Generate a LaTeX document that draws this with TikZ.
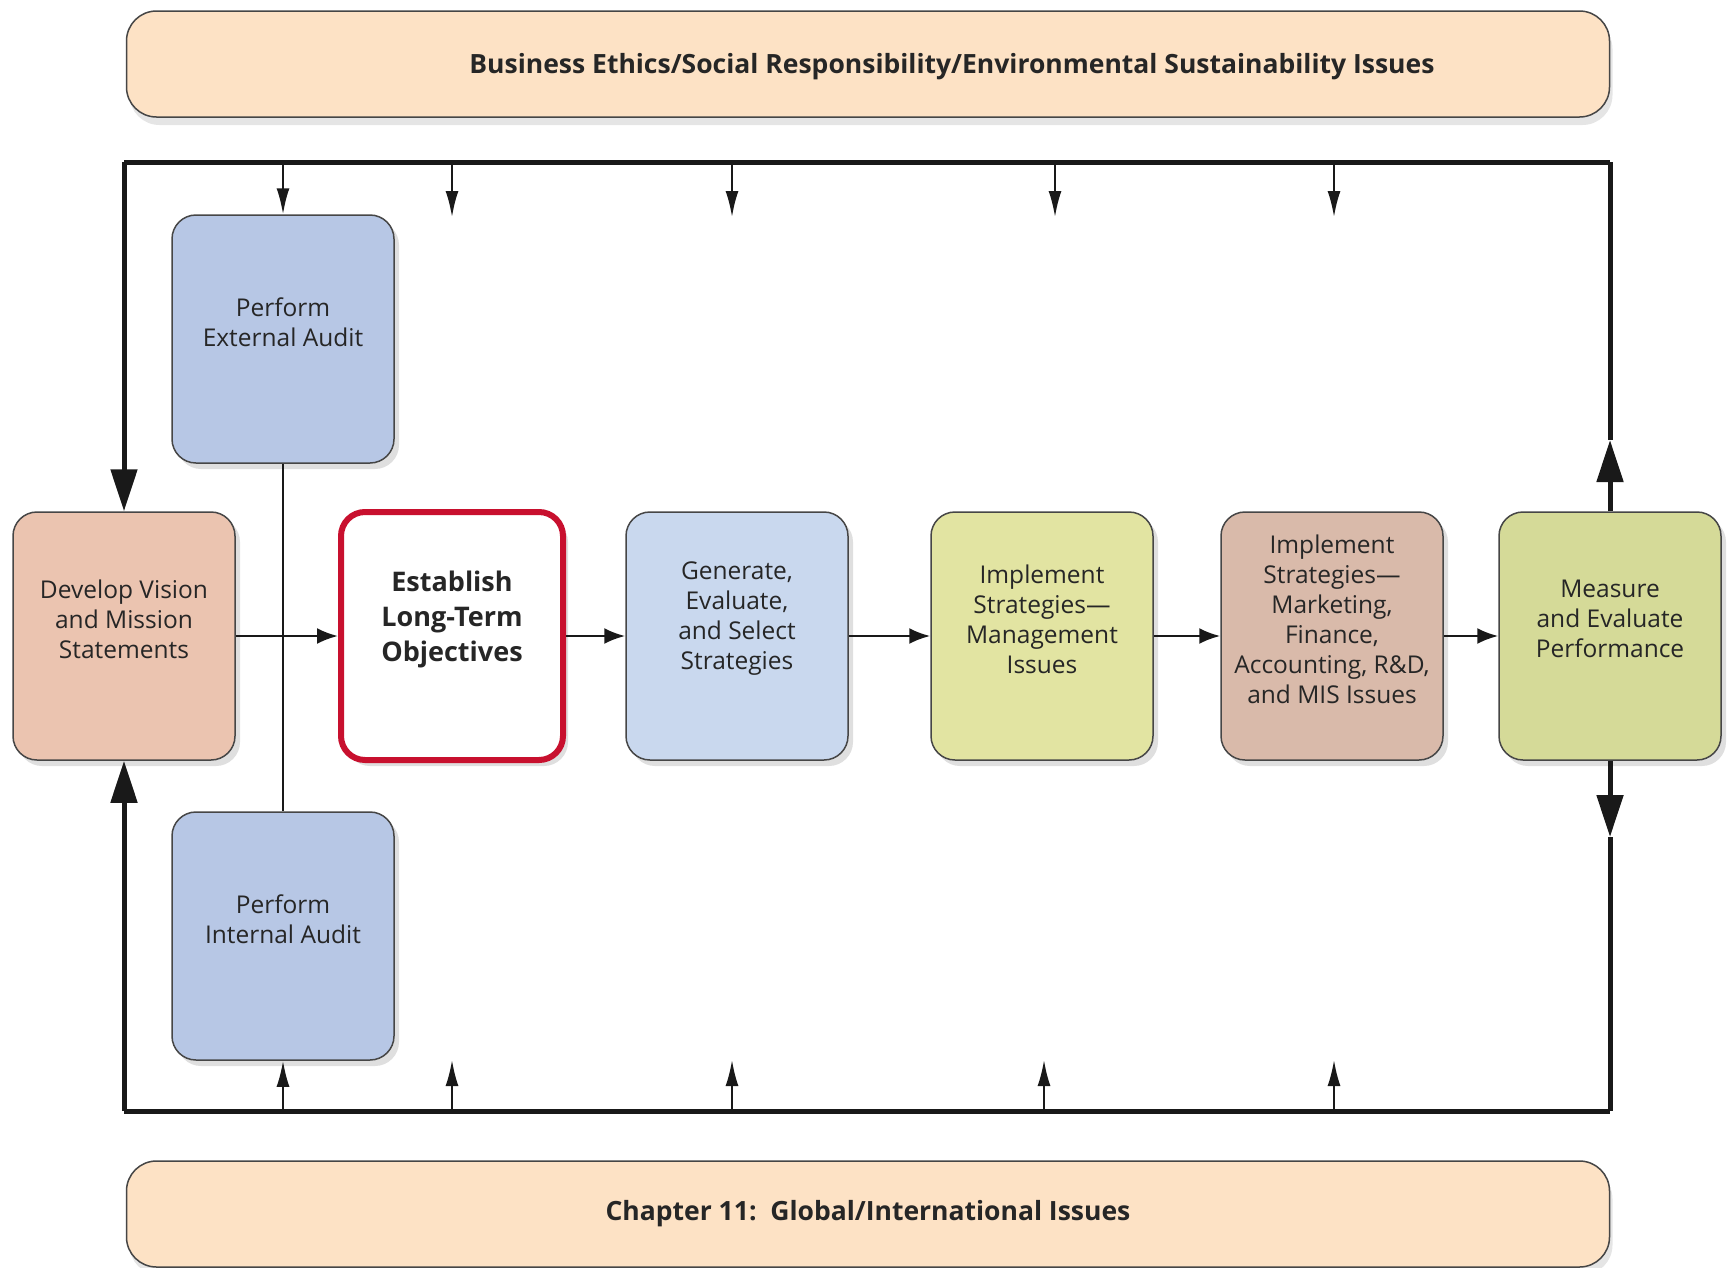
\documentclass[tikz,border=0pt]{standalone}
\usepackage{fontspec}
\setmainfont{Open Sans}
\usetikzlibrary{positioning,shapes,shadows,arrows.meta}

\definecolor{bannerfill}{RGB}{253,226,197}
\definecolor{visionfill}{RGB}{235,196,176}
\definecolor{auditfill}{RGB}{183,199,229}
\definecolor{stratfill}{RGB}{201,216,238}
\definecolor{mgmtfill}{RGB}{226,228,162}
\definecolor{mktfill}{RGB}{217,186,170}
\definecolor{perffill}{RGB}{213,218,152}
\definecolor{objred}{RGB}{200,16,46}
\definecolor{edgegray}{RGB}{70,70,70}

\tikzset{
  stage/.style={draw=edgegray, line width=1.5pt, rounded corners=24pt,
    minimum width=222pt, minimum height=248pt,
    drop shadow={shadow xshift=5pt, shadow yshift=-6pt, opacity=0.25}},
  stagetext/.style={label={[align=center, text=black!85, yshift=17pt,
    font=\fontsize{24.5}{30}\selectfont]center:#1}},
  banner/.style={draw=edgegray, line width=1.5pt, rounded corners=30pt,
    fill=bannerfill, minimum width=1483pt, minimum height=106pt,
    text=black!85, font=\bfseries\fontsize{26.5}{30}\selectfont,
    drop shadow={shadow xshift=3pt, shadow yshift=-8pt, opacity=0.2}},
  outer/.style={line width=5pt, black!90},
  feed/.style={line width=2pt, black!90, -{Latex[length=26pt,width=13pt]}},
  flow/.style={line width=2.5pt, black!90, -{Latex[length=21pt,width=16pt]}},
  cycleflow/.style={line width=5pt, black!90, -{Triangle[length=42pt,width=26pt]}},
}

\begin{document}
\begin{tikzpicture}[x=1pt, y=-1pt]
\useasboundingbox[fill=white] (0,0) rectangle (1727,1267);

% banners
\node[banner, label={[xshift=84pt, yshift=-3pt, text=black!85,
  font=\bfseries\fontsize{26.5}{30}\selectfont]center:Business Ethics/Social Responsibility/Environmental Sustainability Issues}] (ethics) at (868,64) {};
\node[banner] (global) at (868,1214) {Chapter 11:\ \ Global/International Issues};

% stages
\node[stage, fill=visionfill, stagetext={Develop Vision\\and Mission\\Statements}] (dev) at (124,636) {};
\node[stage, fill=auditfill, stagetext={Perform\\External Audit}] (ext) at (283,339) {};
\node[stage, fill=auditfill, stagetext={Perform\\Internal Audit}] (int) at (283,936) {};
\node[stage, fill=white, draw=objred, line width=6pt,
  label={[align=center, text=black!85, yshift=17pt, font=\bfseries\fontsize{27}{35}\selectfont]center:Establish\\Long-Term\\Objectives}] (obj) at (452,636) {};
\node[stage, fill=stratfill, stagetext={Generate,\\Evaluate,\\and Select\\Strategies}] (gen) at (737,636) {};
\node[stage, fill=mgmtfill, stagetext={Implement\\Strategies---\\Management\\Issues}] (mgmt) at (1042,636) {};
\node[stage, fill=mktfill, stagetext={Implement\\Strategies---\\Marketing,\\Finance,\\Accounting, R\&D,\\and MIS Issues}] (mkt) at (1332,636) {};
\node[stage, fill=perffill, stagetext={Measure\\and Evaluate\\Performance}] (perf) at (1610,636) {};

% outer loop
\coordinate (tl) at (124,162);
\coordinate (tr) at (1610,162);
\coordinate (bl) at (124,1111);
\coordinate (br) at (1610,1111);
\coordinate (upt) at (1610,440);
\coordinate (dnt) at (1610,837);
\draw[outer] (tl) -- (tr);
\draw[outer] (bl) -- (br);
\draw[cycleflow] (tl) -- (dev.north);
\draw[cycleflow] (bl) -- (dev.south);
\draw[outer] (upt) -- (tr);
\draw[cycleflow] (perf.north) -- (upt);
\draw[outer] (dnt) -- (br);
\draw[cycleflow] (perf.south) -- (dnt);

% audits
\draw[line width=2pt, black!90] (ext.south) -- (int.north);
\draw[feed] (ext.north |- tl) -- (ext.north);
\draw[feed] (int.south |- bl) -- (int.south);

% issues feeding in, top and bottom
\foreach \x [count=\i] in {452,732,1055,1334} {
  \coordinate (top\i) at (\x,162);
  \coordinate (topend\i) at (\x,217);
  \draw[feed] (top\i) -- (topend\i);
}
\foreach \x [count=\i] in {452,732,1044,1334} {
  \coordinate (bot\i) at (\x,1111);
  \coordinate (botend\i) at (\x,1060);
  \draw[feed] (bot\i) -- (botend\i);
}

% main flow
\draw[flow] (dev.east) -- (obj.west);
\draw[flow] (obj.east) -- (gen.west);
\draw[flow] (gen.east) -- (mgmt.west);
\draw[flow] (mgmt.east) -- (mkt.west);
\draw[flow] (mkt.east) -- (perf.west);
\end{tikzpicture}
\end{document}
